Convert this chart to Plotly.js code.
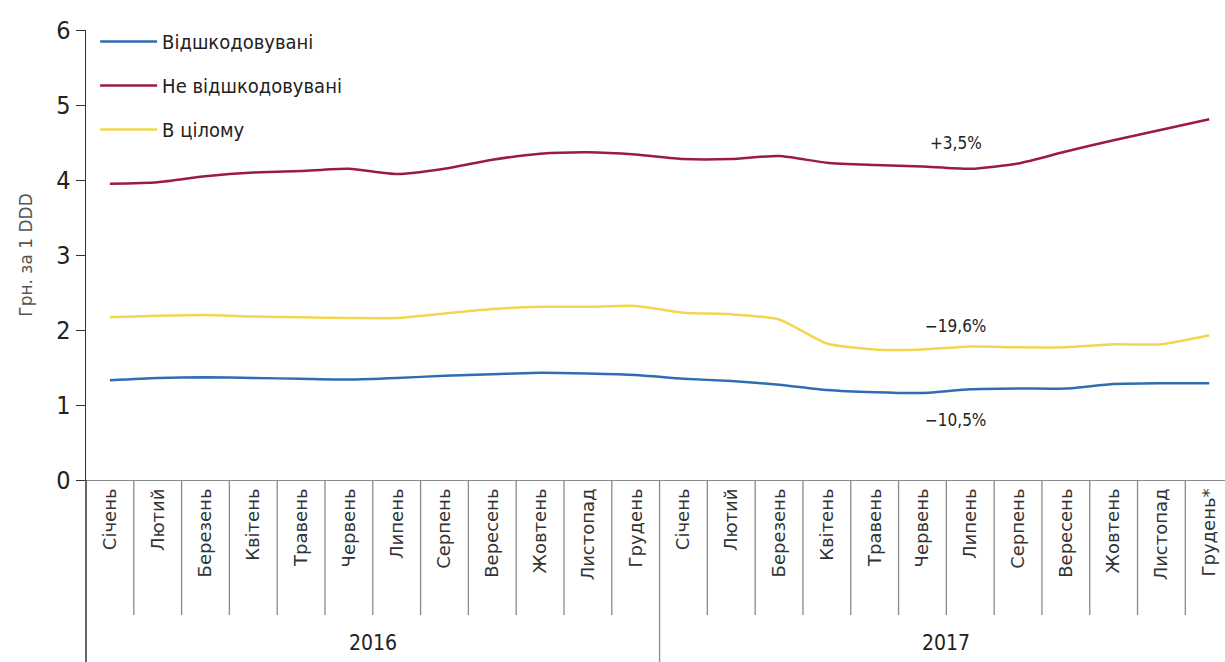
<!DOCTYPE html>
<html>
<head>
<meta charset="utf-8">
<script src="https://cdn.plot.ly/plotly-3.0.1.min.js"></script>
<style>html,body{margin:0;padding:0;background:#fff;}#chart{width:1225px;height:662px;}</style>
</head>
<body>
<div id="chart"></div>
<script>
const months = ["Січень","Лютий","Березень","Квітень","Травень","Червень","Липень","Серпень","Вересень","Жовтень","Листопад","Грудень",
                "Січень","Лютий","Березень","Квітень","Травень","Червень","Липень","Серпень","Вересень","Жовтень","Листопад","Грудень*"];
const years = ["2016","2017"];
const reimbursed = [1.33,1.36,1.37,1.36,1.35,1.34,1.36,1.39,1.41,1.43,1.42,1.40,
                    1.35,1.32,1.27,1.20,1.17,1.16,1.21,1.22,1.22,1.28,1.29,1.29];
const nonReimbursed = [3.95,3.97,4.05,4.10,4.12,4.15,4.08,4.15,4.27,4.35,4.37,4.34,
                       4.28,4.28,4.32,4.23,4.20,4.18,4.15,4.22,4.38,4.53,4.67,4.81];
const overall = [2.17,2.19,2.20,2.18,2.17,2.16,2.16,2.22,2.28,2.31,2.31,2.32,
                 2.23,2.21,2.14,1.82,1.74,1.74,1.78,1.77,1.77,1.81,1.81,1.93];
const seriesNames = ["Відшкодовувані","Не відшкодовувані","В цілому"];
const changeLabels = ["−10,5%","+3,5%","−19,6%"];
const colors = ["#2f6db3","#9a1c44","#f2d650"];

const idx = months.map((_, i) => i);
const narrow = '"DejaVu Sans Condensed", "Liberation Sans Narrow", sans-serif';
const wide = '"DejaVu Sans", "Liberation Sans", sans-serif';

const allSeries = [reimbursed, nonReimbursed, overall];
const traces = allSeries.map((vals, k) => ({
  x: idx, y: vals, type: 'scatter', mode: 'lines', name: seriesNames[k],
  legendgroup: 'g' + k,
  line: {color: colors[k], width: 2.5, shape: 'spline', smoothing: 0.6},
  hoverinfo: 'x+y'
}));

const shapes = [];
for (let i = 0; i < months.length - 1; i++) {
  const yearBoundary = (i + 1) % 12 === 0;
  shapes.push({type: 'line', xref: 'x', yref: 'paper', x0: i + 0.5, x1: i + 0.5,
    y0: 0, y1: yearBoundary ? -0.405 : -0.30, line: {color: '#8a8a8a', width: 1.3}});
}
shapes.push({type: 'line', xref: 'paper', yref: 'paper', x0: 0, x1: 0, y0: 0, y1: -0.405,
  line: {color: '#333', width: 1.5}});

const annotations = [];
years.forEach((yr, j) => {
  annotations.push({xref: 'x', yref: 'paper', x: j * 12 + 5.5, y: -0.362, yanchor: 'middle', text: yr, showarrow: false,
    font: {family: narrow, size: 21, color: '#222'}});
});
const labelY = [0.8, 4.5, 2.05];
allSeries.forEach((vals, k) => {
  annotations.push({xref: 'x', yref: 'y', x: 17.7, y: labelY[k], text: changeLabels[k], showarrow: false,
    font: {family: narrow, size: 17, color: '#222'}});
});

const layout = {
  width: 1225, height: 662,
  margin: {l: 86, r: 0, t: 30, b: 182},
  paper_bgcolor: '#fff', plot_bgcolor: '#fff',
  showlegend: true,
  legend: {x: 0.008, y: 1.018, xanchor: 'left', yanchor: 'top', traceorder: 'grouped',
    tracegroupgap: 15, font: {family: narrow, size: 20, color: '#222'}, bgcolor: 'rgba(0,0,0,0)', itemwidth: 57},
  xaxis: {
    range: [-0.5, 23.33], tickmode: 'array', tickvals: idx, ticktext: months, tickangle: -90,
    showgrid: false, zeroline: false, showline: true, linecolor: '#8a8a8a', linewidth: 1.3,
    ticks: '', tickfont: {family: wide, size: 18, color: '#333'}, fixedrange: true
  },
  yaxis: {
    range: [0, 6], dtick: 1, showgrid: false, zeroline: false, showline: true,
    linecolor: '#333', linewidth: 1.5, ticks: 'outside', ticklen: 9, tickcolor: '#333',
    tickfont: {family: narrow, size: 25, color: '#222'},
    title: {text: 'Грн. за 1 DDD', font: {family: wide, size: 17, color: '#555'}, standoff: 19},
    fixedrange: true
  },
  shapes: shapes,
  annotations: annotations
};

Plotly.newPlot('chart', traces, layout, {displayModeBar: false, staticPlot: true});
</script>
</body>
</html>
